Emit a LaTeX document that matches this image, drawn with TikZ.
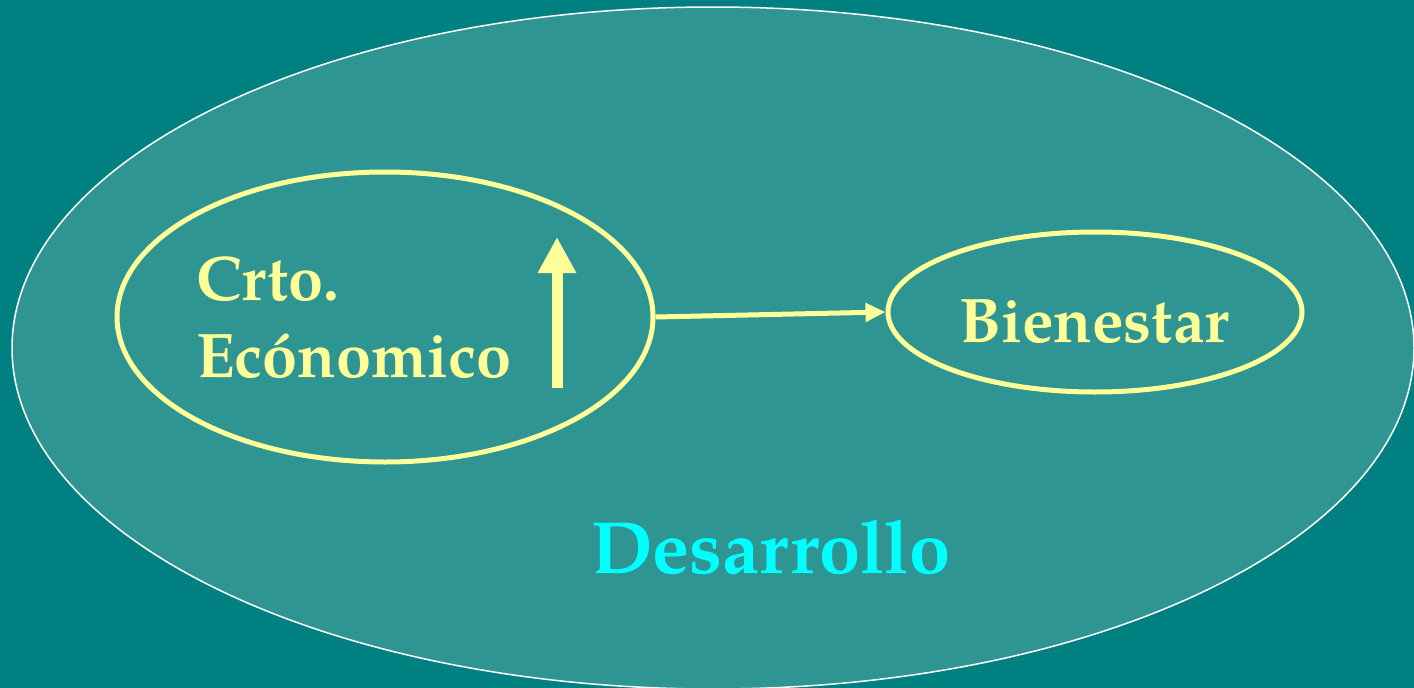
\documentclass[tikz,border=0pt]{standalone}
\usepackage{fontspec}
\setmainfont{TeX Gyre Pagella}
\usetikzlibrary{shapes.geometric,arrows.meta}
\definecolor{bgteal}{RGB}{0,128,128}
\definecolor{fillteal}{RGB}{46,149,147}
\definecolor{paleyellow}{RGB}{255,255,153}
\definecolor{brightcyan}{RGB}{0,255,255}
\tikzset{
  oval/.style={ellipse, draw=paleyellow, line width=5pt, inner sep=0pt},
  label text/.style={text=paleyellow, font=\bfseries\fontsize{63}{75}\selectfont, inner sep=0pt, anchor=base west},
  connector/.style={draw=paleyellow, line width=5pt, -{Triangle[length=20pt,width=18pt]}},
  uparrow/.style={draw=paleyellow, line width=11pt, -{Triangle[length=36pt,width=36pt]}}
}
\begin{document}
\begin{tikzpicture}[x=1pt,y=-1pt]
\useasboundingbox (0,0) rectangle (1414,688);
\fill[bgteal] (0,0) rectangle (1414,688);
\begin{scope}
\clip (0,0) rectangle (1414,688);
\node[ellipse, fill=fillteal, draw=white, line width=1.5pt, minimum width=1402pt, minimum height=682pt, inner sep=0pt] (desarrollo) at (713,348) {};
\end{scope}
\node[oval, minimum width=536pt, minimum height=290pt] (crto) at (385,317) {};
\node[oval, minimum width=414pt, minimum height=160pt] (bien) at (1095,312) {};
\node[label text] (t1) at (196,300) {Crto.};
\node[label text] (t2) at (196,377) {Ecónomico};
\node[label text] (t3) at (959,342) {Bienestar};
\node[text=brightcyan, font=\bfseries\fontsize{74}{88}\selectfont, inner sep=0pt, anchor=base west] (t4) at (591,573) {Desarrollo};
\coordinate (upbase) at (557,388);
\coordinate (uptip) at (557,237);
\draw[uparrow] (upbase) -- (uptip);
\draw[connector] (crto.east) -- (bien.west);
\end{tikzpicture}
\end{document}
